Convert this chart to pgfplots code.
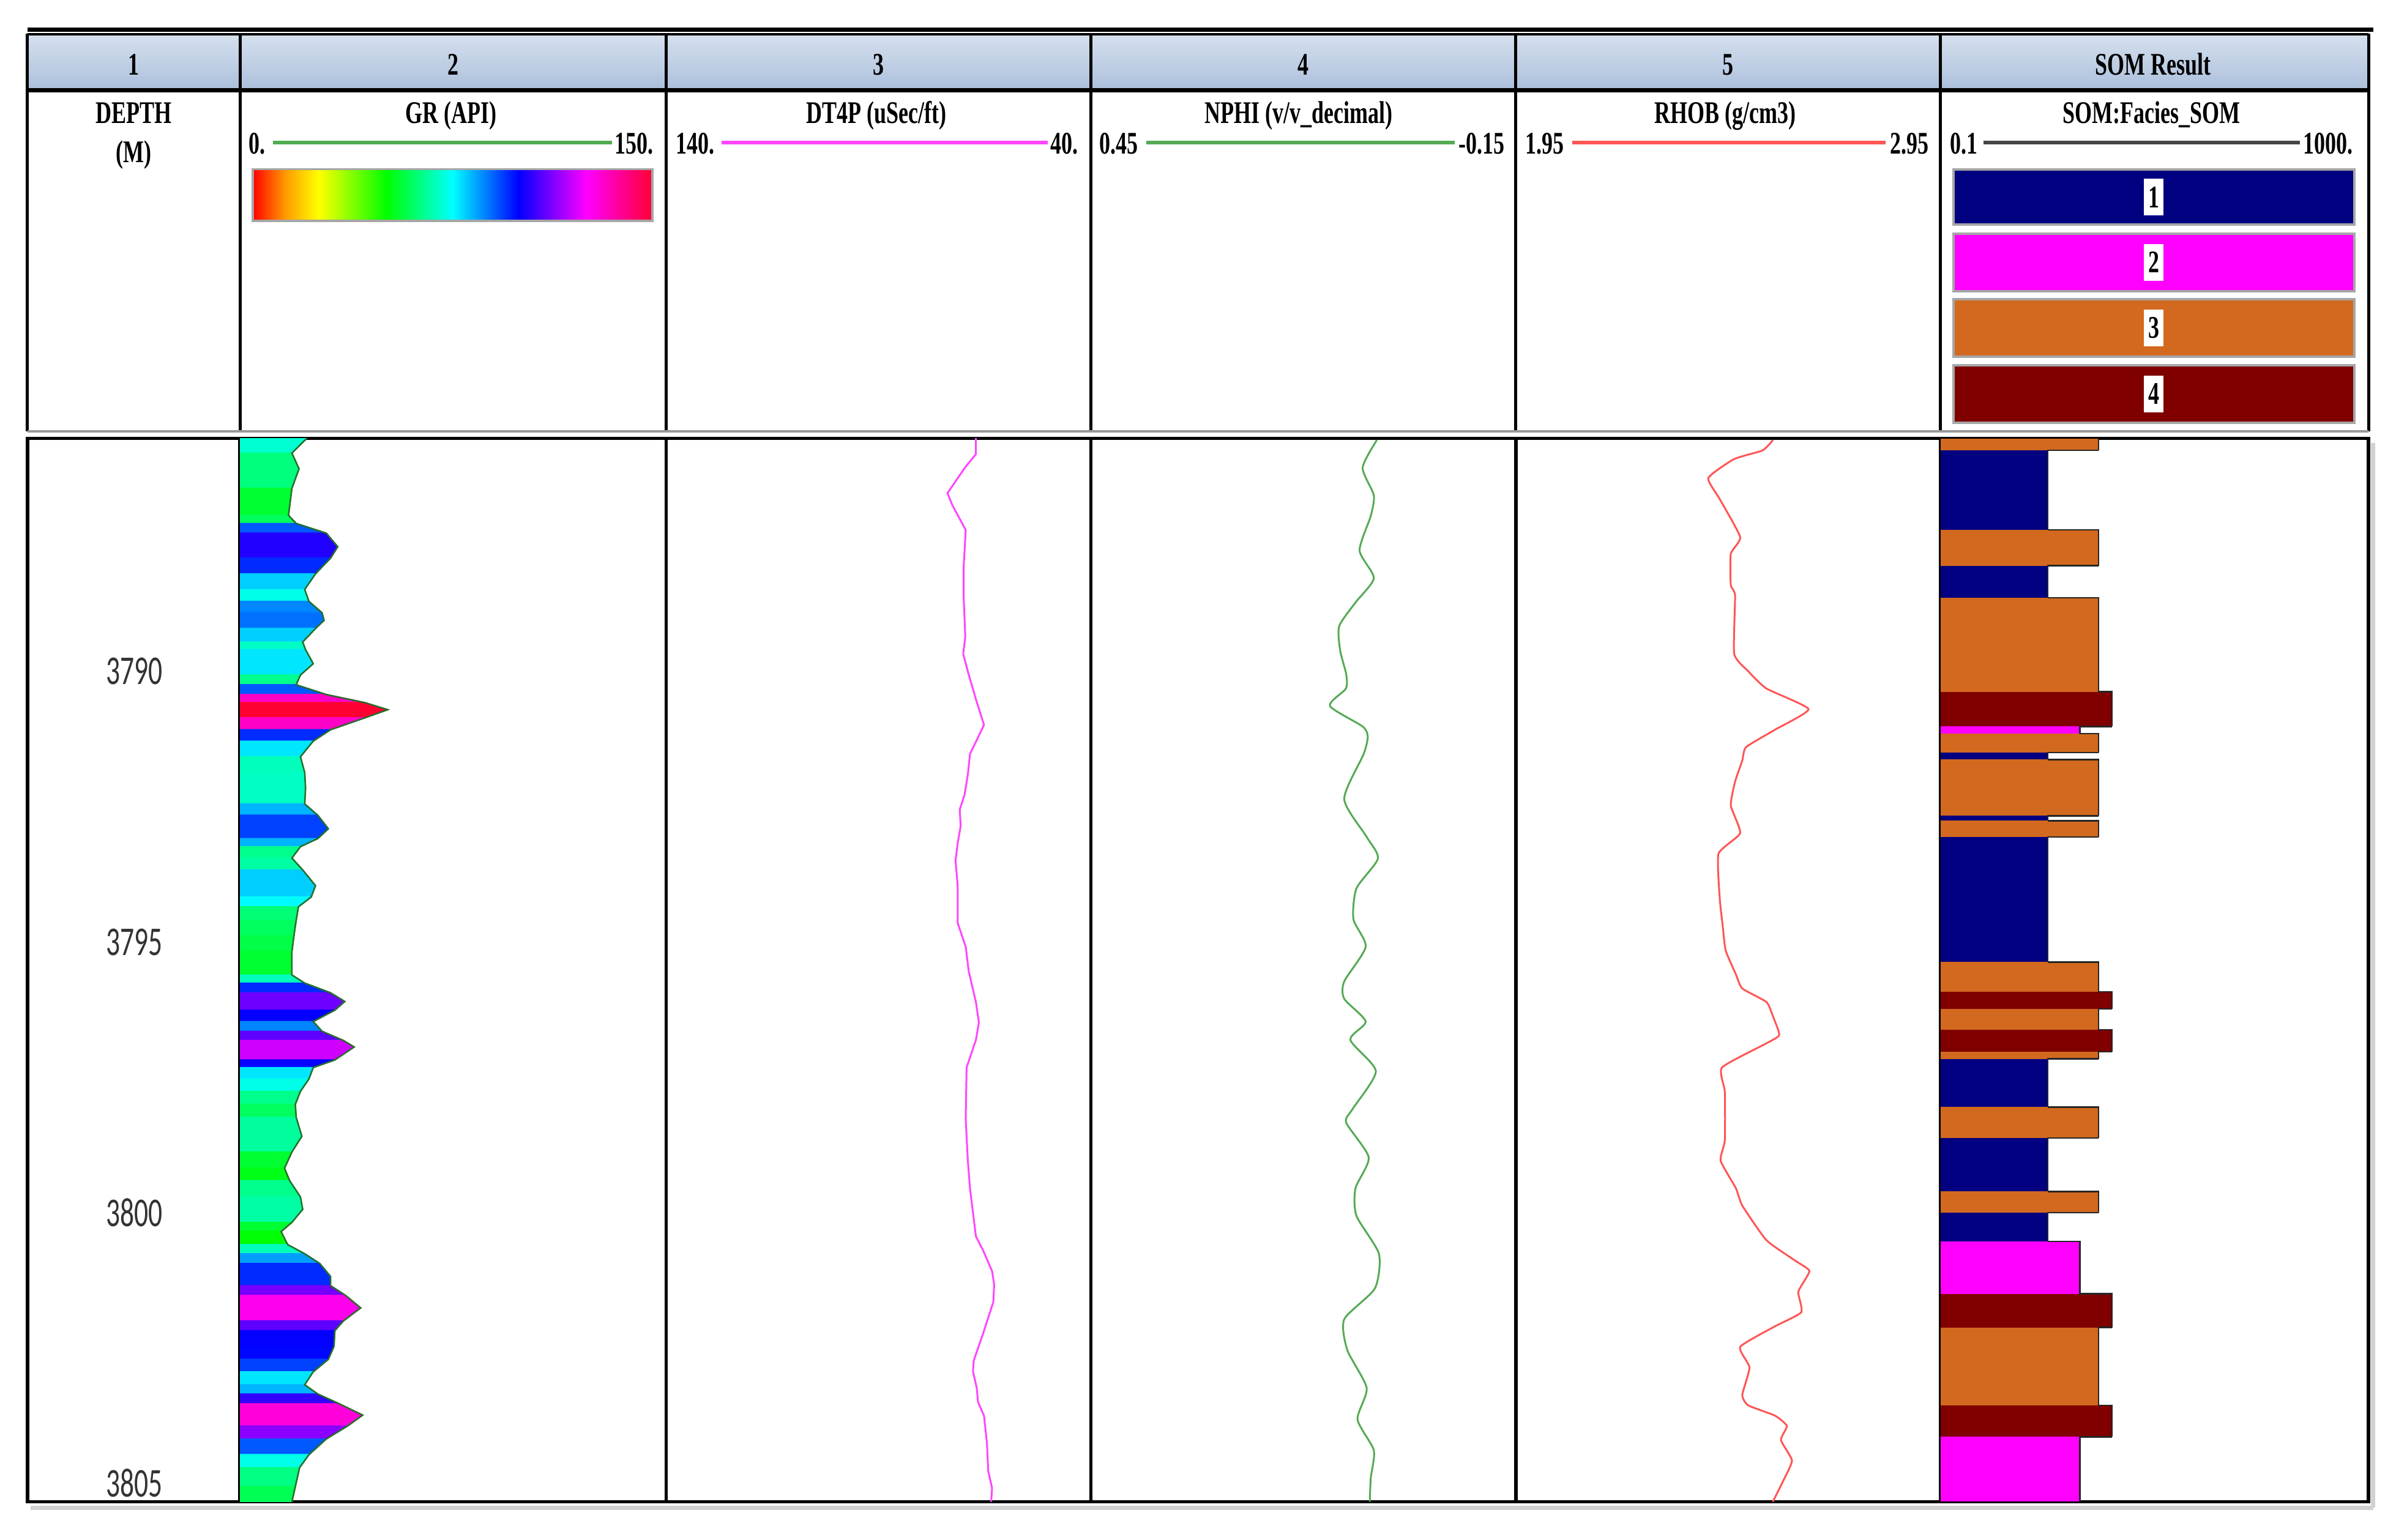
\documentclass[border=0pt]{standalone}
\usepackage{fontspec}
\setmainfont{Liberation Serif}
\newfontfamily\hdrfont[FakeStretch=0.7]{Liberation Serif}
\newfontfamily\depthfont[FakeStretch=0.68]{Carlito}
\usepackage{pgfplots}
\usepackage{pgfplotstable}
\pgfplotsset{compat=1.18}
\usepgfplotslibrary{patchplots}

\definecolor{hdtop}{RGB}{214,224,238}
\definecolor{hdbot}{RGB}{172,192,220}
\definecolor{fac1}{RGB}{0,0,128}
\definecolor{fac2}{RGB}{255,0,255}
\definecolor{fac3}{RGB}{210,105,30}
\definecolor{fac4}{RGB}{128,0,0}
\definecolor{grline}{RGB}{80,172,80}
\definecolor{groutline}{RGB}{40,110,40}
\definecolor{dtcol}{RGB}{255,70,255}
\definecolor{nphicol}{RGB}{85,170,85}
\definecolor{rhobcol}{RGB}{255,85,85}
\definecolor{somline}{RGB}{70,70,70}

\pgfdeclarehorizontalshading{grbar}{100bp}{rgb(0bp)=(1,0,0); rgb(25bp)=(1,0,0); rgb(29bp)=(1,0.6,0); rgb(33.25bp)=(1,1,0); rgb(41.75bp)=(0,1,0); rgb(50bp)=(0,1,1); rgb(58.25bp)=(0,0,1); rgb(66.75bp)=(1,0,1); rgb(75bp)=(1,0,0.2); rgb(100bp)=(1,0,0.2)}

\pgfplotsset{colormap={grmap}{rgb255(0)=(255,0,0) rgb255(16)=(255,153,0) rgb255(33)=(255,255,0) rgb255(67)=(0,255,0) rgb255(100)=(0,255,255) rgb255(133)=(0,0,255) rgb255(167)=(255,0,255) rgb255(200)=(255,0,50)}}

% GR (API) vs depth
\pgfplotstableread{
d g
3785.70 23.5
3785.97 18.3
3786.26 20.8
3786.62 18.3
3787.12 17.1
3787.27 19.8
3787.45 30.4
3787.70 34.4
3787.91 31.9
3788.20 26.6
3788.49 22.8
3788.71 24.3
3788.92 28.9
3789.06 29.6
3789.21 26.6
3789.46 22.1
3789.60 23.1
3789.86 25.8
3790.07 21.3
3790.25 19.8
3790.43 30.4
3790.58 44.0
3790.71 52.0
3790.86 44.0
3791.08 31.9
3791.29 25.8
3791.58 21.3
3791.87 22.8
3792.16 23.1
3792.45 22.8
3792.66 27.4
3792.91 31.1
3793.09 27.4
3793.24 21.3
3793.45 18.3
3793.67 22.1
3793.96 26.6
3794.17 25.1
3794.35 20.6
3794.60 19.8
3794.89 19.0
3795.18 18.3
3795.61 18.3
3795.76 22.8
3795.94 31.9
3796.10 36.9
3796.26 33.4
3796.47 25.8
3796.65 28.9
3796.82 36.4
3796.94 40.2
3797.18 33.4
3797.32 25.8
3797.53 24.3
3797.76 21.3
3798.00 19.5
3798.24 19.8
3798.59 21.8
3798.88 18.3
3799.18 15.7
3799.41 17.5
3799.71 21.3
3799.94 22.1
3800.18 18.3
3800.35 14.5
3800.59 16.8
3800.76 22.8
3800.94 28.1
3801.18 31.9
3801.35 31.9
3801.53 37.2
3801.76 42.5
3802.00 36.4
3802.18 33.4
3802.47 33.1
3802.71 31.1
3802.94 25.8
3803.18 22.8
3803.35 27.4
3803.53 34.9
3803.74 43.2
3803.94 37.9
3804.18 30.4
3804.47 24.3
3804.71 21.0
3805.06 19.5
3805.34 18.3
}\grtab

% DT4P (uSec/ft)
\pgfplotstableread{
d v
3785.69 67.1
3785.99 67.1
3786.24 69.7
3786.71 73.8
3786.94 72.6
3787.39 69.5
3788.09 70.0
3788.60 70.0
3789.36 69.6
3789.68 70.1
3790.06 68.8
3790.57 66.9
3790.99 65.2
3791.27 66.9
3791.53 68.5
3791.91 69.0
3792.29 69.8
3792.55 70.9
3792.86 70.7
3793.18 71.4
3793.50 71.9
3793.95 71.4
3794.65 71.4
3795.09 69.5
3795.54 68.8
3796.11 67.1
3796.49 66.4
3796.81 67.1
3797.32 69.3
3798.28 69.5
3799.04 69.0
3799.55 68.5
3800.44 67.1
3800.70 65.4
3801.08 63.3
3801.33 62.8
3801.65 63.0
3802.23 65.4
3802.73 67.6
3802.93 67.8
3803.24 66.9
3803.50 66.6
3803.75 65.2
3804.26 64.5
3804.77 64.2
3805.09 63.3
3805.34 63.5
}\dttab

% NPHI (v/v)
\pgfplotstableread{
d v
3785.73 0.0463
3786.24 0.0664
3786.75 0.0506
3787.13 0.0549
3787.77 0.0707
3788.28 0.0506
3788.73 0.0765
3789.17 0.0996
3789.62 0.0981
3790.06 0.0895
3790.32 0.0901
3790.64 0.1125
3791.02 0.0664
3791.21 0.0592
3791.53 0.0650
3792.36 0.0924
3793.06 0.0607
3793.46 0.0448
3794.01 0.0751
3794.58 0.0794
3795.09 0.0621
3795.73 0.0924
3796.05 0.0924
3796.47 0.0621
3796.81 0.0837
3797.39 0.0477
3798.09 0.0808
3798.34 0.0895
3798.98 0.0578
3799.55 0.0765
3800.06 0.0751
3800.76 0.0434
3801.40 0.0491
3801.97 0.0924
3802.54 0.0880
3803.24 0.0607
3803.82 0.0736
3804.39 0.0506
3804.90 0.0549
3805.34 0.0563
}\nphitab

% RHOB (g/cm3)
\pgfplotstableread{
d v
3785.73 2.555
3785.92 2.531
3786.08 2.464
3786.43 2.403
3786.82 2.430
3787.52 2.478
3787.83 2.456
3788.41 2.456
3788.60 2.466
3789.68 2.464
3790.00 2.497
3790.32 2.540
3790.70 2.639
3791.08 2.560
3791.40 2.492
3791.65 2.483
3792.04 2.466
3792.48 2.456
3792.99 2.478
3793.37 2.427
3794.20 2.430
3794.71 2.437
3795.16 2.444
3795.60 2.468
3795.86 2.483
3796.11 2.540
3796.37 2.555
3796.72 2.570
3796.88 2.538
3797.32 2.435
3797.77 2.442
3798.66 2.442
3799.04 2.432
3799.55 2.468
3799.87 2.483
3800.51 2.540
3800.89 2.608
3801.08 2.641
3801.46 2.615
3801.84 2.622
3802.10 2.560
3802.48 2.478
3802.86 2.500
3803.37 2.483
3803.56 2.497
3803.75 2.560
3803.94 2.588
3804.20 2.574
3804.58 2.600
3804.96 2.579
3805.34 2.555
}\rhobtab

% SOM facies intervals
\pgfplotstableread{
top bot f
3785.70 3785.92 3
3785.92 3787.39 1
3787.39 3788.05 3
3788.05 3788.64 1
3788.64 3790.38 3
3790.38 3791.02 4
3791.02 3791.15 2
3791.15 3791.50 3
3791.50 3791.63 1
3791.63 3792.67 3
3792.67 3792.76 1
3792.76 3793.06 3
3793.06 3795.37 1
3795.37 3795.92 3
3795.92 3796.24 4
3796.24 3796.62 3
3796.62 3797.03 4
3797.03 3797.16 3
3797.16 3798.05 1
3798.05 3798.62 3
3798.62 3799.61 1
3799.61 3800.00 3
3800.00 3800.53 1
3800.53 3801.50 2
3801.50 3802.12 4
3802.12 3803.56 3
3803.56 3804.14 4
3804.14 3805.34 2
}\factab

\pgfplotstablegetrowsof{\grtab}\pgfmathtruncatemacro\grlast{\pgfplotsretval-2}
\pgfplotstablegetrowsof{\factab}\pgfmathtruncatemacro\faclast{\pgfplotsretval-1}

\newcommand\hf{\hdrfont\bfseries\fontsize{10.3}{12}\selectfont}

\pgfplotsset{track/.style={
  scale only axis, height=348pt, y dir=reverse, ymin=3785.70, ymax=3805.34,
  xtick=\empty, ytick=\empty, axis line style={line width=1.1pt},
  anchor=north west}}

\begin{document}
\begin{tikzpicture}
\begin{scope}[x=0.5pt,y=-0.5pt]
\useasboundingbox (0,0) rectangle (1568,1008);
% header band
\shade[top color=hdtop,bottom color=hdbot] (18,22) rectangle (1550,58.5);
\draw[line width=1.3pt] (18,19.5) -- (1553,19.5);
\draw[line width=0.7pt] (18,22.5) -- (1550,22.5);
\draw[line width=1.3pt] (18,59) -- (1550,59);
\foreach \xx in {18,157,436,714,992,1270,1550} \draw[line width=1pt] (\xx,22) -- (\xx,282.5);
\draw[black!40, line width=0.8pt] (18,282.5) -- (1550,282.5);
\draw[black!18, line width=1.4pt] (20,987) -- (1553,987);
\draw[black!18, line width=1.4pt] (1553,290) -- (1553,987);
% column numbers
\node[anchor=base] at (87.5,49) {\hf 1};
\node[anchor=base] at (296.5,49) {\hf 2};
\node[anchor=base] at (575,49) {\hf 3};
\node[anchor=base] at (853,49) {\hf 4};
\node[anchor=base] at (1131,49) {\hf 5};
\node[anchor=base] at (1409,49) {\hf SOM Result};
% titles
\node[anchor=base] at (87.5,80.5) {\hf DEPTH};
\node[anchor=base] at (87.5,106.5) {\hf (M)};
\node[anchor=base] at (295,80.5) {\hf GR (API)};
\node[anchor=base] at (573.5,80.5) {\hf DT4P (uSec/ft)};
\node[anchor=base] at (850,80.5) {\hf NPHI (v/v\_decimal)};
\node[anchor=base] at (1129,80.5) {\hf RHOB (g/cm3)};
\node[anchor=base] at (1408,80.5) {\hf SOM:Facies\_SOM};
% scale lines
\draw[grline, line width=1.2pt] (178.6,93.5) -- (400.5,93.5);
\node[anchor=base west, inner sep=0pt] at (162.5,100.8) {\hf 0.};
\node[anchor=base east, inner sep=0pt] at (428,100.8) {\hf 150.};
\draw[dtcol, line width=1.2pt] (472,93.5) -- (685.5,93.5);
\node[anchor=base west, inner sep=0pt] at (442,100.8) {\hf 140.};
\node[anchor=base east, inner sep=0pt] at (706,100.8) {\hf 40.};
\draw[nphicol, line width=1.2pt] (750,93.5) -- (952,93.5);
\node[anchor=base west, inner sep=0pt] at (719,100.8) {\hf 0.45};
\node[anchor=base east, inner sep=0pt] at (985,100.8) {\hf -0.15};
\draw[rhobcol, line width=1.2pt] (1029,93.5) -- (1234,93.5);
\node[anchor=base west, inner sep=0pt] at (998,100.8) {\hf 1.95};
\node[anchor=base east, inner sep=0pt] at (1262.5,100.8) {\hf 2.95};
\draw[somline, line width=1.2pt] (1298,93.5) -- (1505,93.5);
\node[anchor=base west, inner sep=0pt] at (1276,100.8) {\hf 0.1};
\node[anchor=base east, inner sep=0pt] at (1540,100.8) {\hf 1000.};
% GR colour bar
\shade[shading=grbar] (165.5,110.7) rectangle (427,144.6);
\draw[black!35, line width=0.7pt] (165.5,110.7) rectangle (427,144.6);
% SOM legend
\foreach \c/\ya/\yb/\lab in {fac1/111/147/1, fac2/153/190.5/2, fac3/196/233.5/3, fac4/239/276.7/4}{
  \draw[fill=\c, draw=black!35, line width=0.8pt] (1278.4,\ya) rectangle (1540.7,\yb);
  \node[fill=white, inner sep=0pt, minimum width=6.4pt, minimum height=12pt] at (1409.5,{(\ya+\yb)/2}) {\hf \lab};
}
\end{scope}

% depth track
\begin{axis}[track, at={(9pt,-143.5pt)}, width=69.5pt, xmin=0, xmax=1,
  ytick={3790,3795,3800,3805}, yticklabels={3790,3795,3800,3805},
  major tick length=0pt,
  yticklabel style={anchor=center, xshift=35pt, font=\depthfont\fontsize{13.4}{14}\selectfont, text=black!80}]
\end{axis}

% GR track
\begin{axis}[track, at={(78.5pt,-143.5pt)}, width=139.5pt, xmin=0, xmax=150,
  colormap name=grmap, point meta min=0, point meta max=50]
\pgfplotsforeachungrouped \i in {0,...,\grlast}{%
  \pgfplotstablegetelem{\i}{d}\of\grtab \let\da\pgfplotsretval
  \pgfplotstablegetelem{\i}{g}\of\grtab \let\ga\pgfplotsretval
  \pgfmathtruncatemacro\j{\i+1}%
  \pgfplotstablegetelem{\j}{d}\of\grtab \let\db\pgfplotsretval
  \pgfplotstablegetelem{\j}{g}\of\grtab \let\gb\pgfplotsretval
  \pgfmathsetmacro\gm{max(\ga,\gb)}%
  \edef\tmp{\noexpand\addplot[patch, patch type=rectangle, shader=flat, point meta=explicit, forget plot] coordinates {(0,\da) [\gm] (\ga,\da) [\gm] (\gb,\db) [\gm] (0,\db) [\gm]};}%
  \tmp
}
\addplot[groutline, line width=0.5pt] table[x=g, y=d]{\grtab};
\end{axis}

% DT4P track
\begin{axis}[track, at={(218pt,-143.5pt)}, width=139pt, xmin=40, xmax=140, x dir=reverse]
\addplot[dtcol, line width=0.6pt] table[x=v, y=d]{\dttab};
\end{axis}

% NPHI track
\begin{axis}[track, at={(357pt,-143.5pt)}, width=139pt, xmin=-0.15, xmax=0.45, x dir=reverse]
\addplot[nphicol, line width=0.6pt, smooth, tension=0.4] table[x=v, y=d]{\nphitab};
\end{axis}

% RHOB track
\begin{axis}[track, at={(496pt,-143.5pt)}, width=139pt, xmin=1.95, xmax=2.95]
\addplot[rhobcol, line width=0.6pt, smooth, tension=0.3] table[x=v, y=d]{\rhobtab};
\end{axis}

% SOM track
\begin{axis}[track, at={(635pt,-143.5pt)}, width=140pt, xmode=log, xmin=0.1, xmax=1000]
\pgfplotsforeachungrouped \i in {0,...,\faclast}{%
  \pgfplotstablegetelem{\i}{top}\of\factab \let\ta\pgfplotsretval
  \pgfplotstablegetelem{\i}{bot}\of\factab \let\tb\pgfplotsretval
  \pgfplotstablegetelem{\i}{f}\of\factab \let\ff\pgfplotsretval
  \edef\tmp{\noexpand\addplot[fill=fac\ff, draw=none, forget plot] coordinates {(0.1,\ta) (\ff,\ta) (\ff,\tb) (0.1,\tb)};}%
  \tmp
}
\def\fprev{3}
\pgfplotsforeachungrouped \i in {0,...,\faclast}{%
  \pgfplotstablegetelem{\i}{top}\of\factab \let\ta\pgfplotsretval
  \pgfplotstablegetelem{\i}{bot}\of\factab \let\tb\pgfplotsretval
  \pgfplotstablegetelem{\i}{f}\of\factab \let\ff\pgfplotsretval
  \edef\tmp{\noexpand\addplot[black!85, line width=0.5pt, forget plot] coordinates {(\fprev,\ta) (\ff,\ta) (\ff,\tb)};}%
  \tmp
  \global\let\fprev\ff
}
\end{axis}
\end{tikzpicture}
\end{document}
